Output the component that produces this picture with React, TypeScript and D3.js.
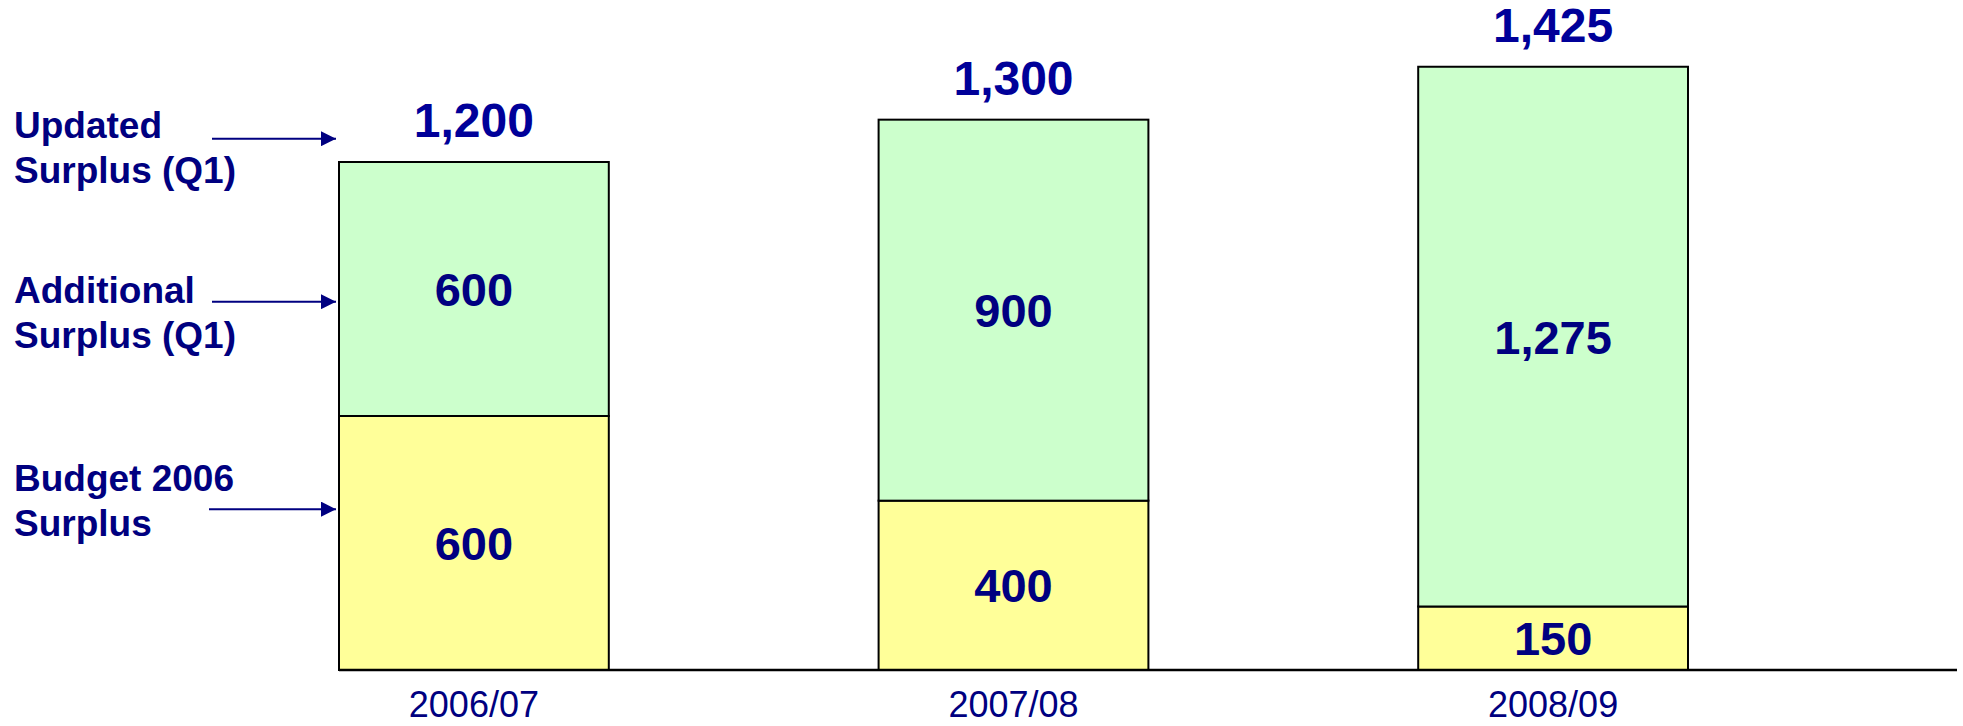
import React from 'react';
import * as d3 from 'd3';

const categories = ['2006/07', '2007/08', '2008/09'];
const budgetSurplus = [600, 400, 150];
const additionalSurplus = [600, 900, 1275];
const updatedSurplus = [1200, 1300, 1425];

// left-hand annotations: text lines, value level the arrow points at, level of first text line
const notes = [
  { lines: ['Updated', 'Surplus (Q1)'], at: 1255, textAt: 1256 },
  { lines: ['Additional', 'Surplus (Q1)'], at: 870, textAt: 866 },
  { lines: ['Budget 2006', 'Surplus'], at: 380, textAt: 424 },
];

const W = 1963;
const H = 726;
const NAVY = '#000080';
const BLUE = '#000099';
const FONT = '"Liberation Sans", Arial, sans-serif';

const fmt = d3.format(',');

const App = () => {
  const x = d3.scaleBand<string>()
    .domain(categories)
    .range([339, 1688])
    .paddingInner(0.5)
    .paddingOuter(0);

  const y = d3.scaleLinear()
    .domain([0, 1500])
    .range([670, 35]);

  const stacks = categories.map((c, i) => ({
    cat: c,
    segs: [
      { v0: 0, v1: budgetSurplus[i], val: budgetSurplus[i], fill: '#FFFF99' },
      { v0: budgetSurplus[i], v1: budgetSurplus[i] + additionalSurplus[i], val: additionalSurplus[i], fill: '#CCFFCC' },
    ],
    total: updatedSurplus[i],
  }));

  return (
    <svg
      width={W}
      height={H}
      viewBox={`0 0 ${W} ${H}`}
      style={{ position: 'absolute', left: 0, top: 0, background: '#fff', fontFamily: FONT }}
    >
      <defs>
        <marker id="arrowBig" viewBox="0 0 16 16" refX="16" refY="8" markerWidth="16" markerHeight="15" markerUnits="userSpaceOnUse" orient="auto">
          <path d="M0,0 L16,8 L0,16 z" fill={NAVY} />
        </marker>
      </defs>

      {/* Bars */}
      {stacks.map(s => (
        <g key={s.cat}>
          {s.segs.map((seg, j) => (
            <g key={j}>
              <rect
                x={x(s.cat)}
                y={y(seg.v1)}
                width={x.bandwidth()}
                height={y(seg.v0) - y(seg.v1)}
                fill={seg.fill}
                stroke="#000"
                strokeWidth={2}
              />
              <text
                x={(x(s.cat) as number) + x.bandwidth() / 2}
                y={(y(seg.v0) + y(seg.v1)) / 2 + 17}
                textAnchor="middle"
                fill={NAVY}
                style={{ fontSize: '47px', fontWeight: 'bold' }}
              >
                {fmt(seg.val)}
              </text>
            </g>
          ))}
          <text
            x={(x(s.cat) as number) + x.bandwidth() / 2}
            y={y(s.total) - 25}
            textAnchor="middle"
            fill={BLUE}
            style={{ fontSize: '48px', fontWeight: 'bold' }}
          >
            {fmt(s.total)}
          </text>
          <text
            x={(x(s.cat) as number) + x.bandwidth() / 2}
            y={717}
            textAnchor="middle"
            fill={NAVY}
            style={{ fontSize: '36px' }}
          >
            {s.cat}
          </text>
        </g>
      ))}

      {/* Axis line */}
      <line x1={339} x2={1957} y1={y(0)} y2={y(0)} stroke="#000" strokeWidth={2.5} />

      {/* Annotations */}
      {notes.map((n, i) => (
        <g key={i}>
          {n.lines.map((l, k) => (
            <text
              key={k}
              x={14}
              y={y(n.textAt) + k * 45}
              fill={NAVY}
              style={{ fontSize: '37px', fontWeight: 'bold' }}
            >
              {l}
            </text>
          ))}
          <line
            x1={n.lines[0].length > 10 ? 209 : 212}
            x2={(x(categories[0]) as number) - 3}
            y1={y(n.at)}
            y2={y(n.at)}
            stroke={NAVY}
            strokeWidth={2}
            markerEnd="url(#arrowBig)"
          />
        </g>
      ))}
    </svg>
  );
};

export default App;
